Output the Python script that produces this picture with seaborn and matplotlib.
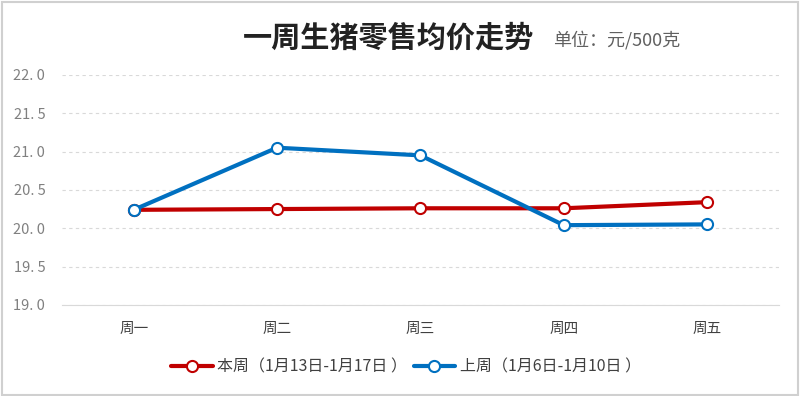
import matplotlib
matplotlib.use("Agg")
import matplotlib.pyplot as plt
import seaborn as sns
import pandas as pd

days = ["周一", "周二", "周三", "周四", "周五"]
this_week = [20.24, 20.25, 20.26, 20.26, 20.34]
last_week = [20.24, 21.05, 20.95, 20.04, 20.05]
this_label = "本周（1月13日-1月17日 ）"
last_label = "上周（1月6日-1月10日 ）"
y_ticks = [19.0, 19.5, 20.0, 20.5, 21.0, 21.5, 22.0]

sns.set_style("white")
plt.rcParams["font.family"] = ["Noto Sans CJK SC", "DejaVu Sans"]

df = pd.DataFrame({"day": days, "this": this_week, "last": last_week})

fig = plt.figure(figsize=(8, 3.96), dpi=100)
ax = fig.add_axes([0.0775, 0.23, 0.896, 0.581])

# red first, blue drawn on top
for col, label, color in [("this", this_label, "#c00000"), ("last", last_label, "#0070c0")]:
    sns.lineplot(data=df, x="day", y=col, sort=False, color=color, label=label,
                 linewidth=3, marker="o", markersize=8,
                 markerfacecolor="white", markeredgecolor=color,
                 markeredgewidth=1.5, ax=ax)

ax.set_xlim(-0.5, 4.5)
ax.set_ylim(19, 22)
ax.set_yticks(y_ticks)
ax.set_yticklabels([f"{v:.1f}".replace(".", ". ") for v in y_ticks],
                   color="#808080", fontsize=10.5)
ax.tick_params(axis="x", labelsize=10.5, colors="#404040", length=0, pad=12)
ax.tick_params(axis="y", length=0, pad=12)
ax.set_xlabel("")
ax.set_ylabel("")
ax.yaxis.grid(True, linestyle=(0, (3, 3)), color="#d9d9d9", linewidth=0.8)
for s in ["top", "right", "left"]:
    ax.spines[s].set_visible(False)
ax.spines["bottom"].set_color("#d9d9d9")

leg = ax.legend(loc="center", bbox_to_anchor=(0.48, -0.27), ncol=2, frameon=False,
                fontsize=11.5, handlelength=2.6, columnspacing=0.4, handletextpad=0.3)
for t in leg.get_texts():
    t.set_color("#404040")

fig.text(0.485, 0.905, "一周生猪零售均价走势", ha="center", va="center",
         fontsize=21, fontweight="bold", color="#222222")
fig.text(0.691, 0.9, "单位：元/500克", ha="left", va="center",
         fontsize=13, color="#606060")

border = plt.Rectangle((0.002, 0.003), 0.995, 0.993, transform=fig.transFigure,
                       fill=False, edgecolor="#d0d0d0", linewidth=1.5)
fig.patches.append(border)

fig.savefig("out.png", dpi=100)
